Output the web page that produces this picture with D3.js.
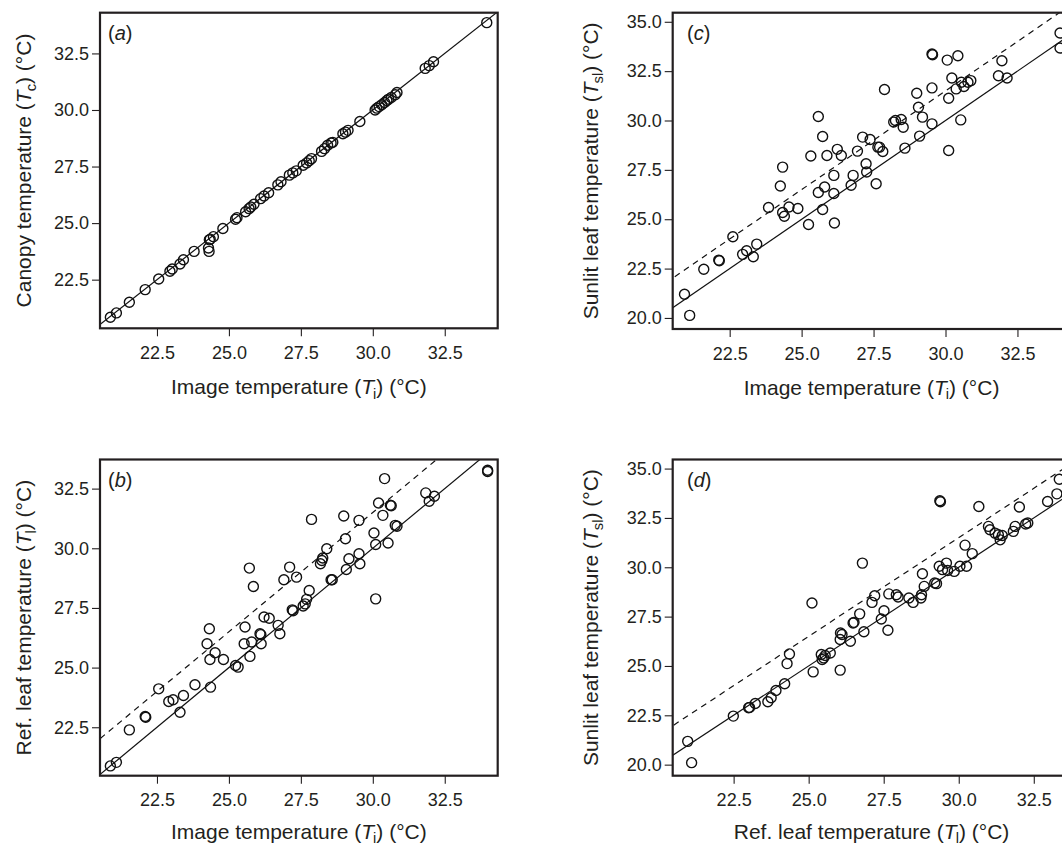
<!DOCTYPE html>
<html><head><meta charset="utf-8">
<script src="https://cdn.jsdelivr.net/npm/d3@7"></script>
<style>body{margin:0;background:#fff}svg{display:block}</style>
</head><body><svg id="chart" width="1062" height="848"></svg>
<script>
// ---------- data ----------
const xTickValues = [22.5, 25.0, 27.5, 30.0, 32.5];
const yTicksNarrow = [22.5, 25.0, 27.5, 30.0, 32.5];
const yTicksWide = [20.0, 22.5, 25.0, 27.5, 30.0, 32.5, 35.0];

// panel (a): image temperature Ti vs canopy temperature Tc
const aTi = [20.88,21.09,21.54,22.09,22.56,22.95,23.03,23.3,23.42,23.79,24.29,24.31,24.32,24.35,24.46,24.79,25.23,25.28,25.58,25.7,25.76,25.87,26.1,26.22,26.38,26.7,26.81,27.1,27.22,27.34,27.58,27.7,27.79,27.87,28.22,28.32,28.43,28.55,28.61,28.96,29.05,29.14,29.55,30.08,30.14,30.22,30.31,30.41,30.49,30.55,30.64,30.78,30.84,31.82,31.96,32.11,33.96];
const aTc = [20.84,21.03,21.5,22.06,22.53,22.87,22.97,23.19,23.38,23.75,23.9,23.75,24.26,24.29,24.4,24.76,25.17,25.24,25.5,25.64,25.71,25.83,26.08,26.2,26.34,26.69,26.83,27.12,27.22,27.31,27.56,27.66,27.76,27.85,28.17,28.29,28.44,28.54,28.57,28.95,29.02,29.1,29.49,30.0,30.08,30.15,30.23,30.33,30.42,30.48,30.55,30.67,30.77,31.84,31.96,32.13,33.86];

// panel (b): image temperature Ti vs ref. leaf temperature Tl
const bTi = [20.88,21.09,21.54,22.09,22.11,22.56,22.91,23.06,23.42,23.3,23.82,24.32,24.24,24.34,24.36,24.52,24.81,25.23,25.32,25.56,25.53,25.73,25.79,25.71,25.85,26.08,26.11,26.12,26.22,26.4,26.71,26.77,26.91,27.11,27.35,27.2,27.23,27.58,27.65,27.7,27.79,27.87,28.18,28.23,28.26,28.4,28.55,28.59,28.99,29.05,29.08,29.17,29.52,29.52,29.55,30.04,30.1,30.1,30.2,30.35,30.41,30.53,30.61,30.64,30.78,30.84,31.84,31.96,32.14,33.99,33.99];
const bTl = [20.88,21.03,22.39,22.95,22.92,24.11,23.58,23.65,23.83,23.13,24.28,26.63,26.0,25.34,24.18,25.62,25.34,25.09,25.02,26.7,26.0,25.47,26.07,29.17,28.4,26.42,26.38,26.0,27.12,27.07,26.77,26.42,28.68,29.21,28.79,27.42,27.38,27.58,27.67,27.86,28.23,31.21,29.35,29.49,29.59,29.98,28.68,28.68,31.35,30.4,29.11,29.56,31.17,29.77,29.35,30.64,30.16,27.88,31.9,31.38,32.92,30.22,31.8,31.78,30.96,30.92,32.32,31.97,32.18,33.27,33.22];

// panel (c): image temperature Ti vs sunlit leaf temperature Tsl
const cTi = [20.93,21.11,21.6,22.12,22.14,22.61,22.95,23.09,23.32,23.44,23.85,24.26,24.34,24.34,24.4,24.56,24.87,25.24,25.32,25.58,25.58,25.73,25.73,25.8,25.88,26.12,26.12,26.14,26.24,26.38,26.72,26.79,26.94,27.12,27.24,27.26,27.38,27.59,27.65,27.71,27.82,27.88,28.2,28.26,28.46,28.53,28.59,29.0,29.06,29.1,29.2,29.53,29.55,29.53,29.53,30.06,30.11,30.11,30.22,30.37,30.43,30.53,30.55,30.64,30.78,30.88,31.84,31.96,32.14,33.98,33.98];
const cTsl = [21.2,20.13,22.47,22.93,22.9,24.11,23.22,23.4,23.1,23.74,25.59,26.68,27.64,25.34,25.15,25.62,25.54,24.73,28.2,30.2,26.35,29.19,25.49,26.63,28.23,27.22,26.3,24.81,28.54,28.23,26.72,27.22,28.45,29.16,27.81,27.39,29.04,26.8,28.65,28.65,28.43,31.57,29.92,30.0,30.05,29.66,28.6,31.38,30.67,29.21,30.17,33.37,33.33,31.65,29.83,33.06,31.13,28.48,32.15,31.6,33.28,30.03,31.94,31.72,31.94,32.02,32.27,33.03,32.15,34.43,33.67];

// panel (d): ref. leaf temperature Tl vs sunlit leaf temperature Tsl
const dTl = [20.97,21.1,22.49,23.0,23.03,23.22,23.64,23.75,23.91,24.2,24.28,24.36,25.11,25.15,25.42,25.45,25.55,25.5,25.72,26.05,26.06,26.11,26.05,26.39,26.48,26.51,26.7,26.79,26.84,27.11,27.2,27.42,27.51,27.64,27.67,27.92,27.98,28.34,28.48,28.74,28.76,28.79,28.85,29.2,29.26,29.37,29.39,29.35,29.46,29.59,29.63,29.85,30.04,30.26,30.21,30.45,30.67,30.99,31.04,31.21,31.32,31.38,31.45,31.82,31.88,32.02,32.23,32.3,32.96,33.27,33.35];
const dTsl = [21.18,20.1,22.46,22.88,22.9,23.1,23.19,23.39,23.76,24.1,25.12,25.61,28.19,24.7,25.58,25.33,25.53,25.41,25.66,24.79,26.67,26.59,26.34,26.25,27.18,27.21,27.64,30.21,26.73,28.22,28.56,27.38,27.8,26.81,28.65,28.61,28.49,28.44,28.22,28.44,28.61,29.67,29.03,29.2,29.17,33.37,33.32,30.05,29.88,30.21,29.84,29.79,30.05,30.05,31.12,30.69,33.08,32.07,31.9,31.73,31.65,31.39,31.61,31.82,32.07,33.05,32.19,32.24,33.33,33.72,34.46];

// reference lines: 1:1 (solid) and 1:1 + offset (dashed)
const dashedOffset = 1.5;

// axis ranges (value domains)
const domTi = [20.52, 34.34];
const domTc = [20.35, 34.3];
const domTl = [20.47, 33.72];
const domTsl = [19.44, 35.46];

// axis titles
const titleTi = [["Image temperature ("], ["T","i"], [") (°C)"]];
const titleTc = [["Canopy temperature ("], ["T","c"], [") (°C)"]];
const titleTl = [["Ref. leaf temperature ("], ["T","l"], [") (°C)"]];
const titleTsl = [["Sunlit leaf temperature ("], ["T","sl"], [") (°C)"]];

// ---------- drawing ----------
const svg = d3.select("#chart");
svg.append("rect").attr("width",1062).attr("height",848).attr("fill","#fff");
const FONT = "'Liberation Sans', Arial, Helvetica, sans-serif";
const INK = "#231f20";

function richText(sel, parts, size) {
  let shifted = false;
  const sh = size * 0.2;
  parts.forEach(p => {
    if (p.length === 1) {
      const t = sel.append("tspan").text(p[0]);
      if (shifted) { t.attr("dy", -sh); shifted = false; }
    } else {
      sel.append("tspan").attr("font-style","italic").text(p[0]);
      sel.append("tspan").attr("font-size", size*0.7).attr("dy", sh).attr("dx", -1).text(p[1]);
      shifted = true;
    }
  });
}

const panels = [
  {id:"a", box:{x:100,y:12.7,w:397.7,h:315.6}, xs:aTi, ys:aTc, xd:domTi, yd:domTc, yt:yTicksNarrow,
   xTitle:titleTi, yTitle:titleTc, dashed:false, yTitleX:24, lab:[108,40], xTitleDy:66},
  {id:"b", box:{x:100,y:459.5,w:397.7,h:316.2}, xs:bTi, ys:bTl, xd:domTi, yd:domTl, yt:yTicksNarrow,
   xTitle:titleTi, yTitle:titleTl, dashed:true, yTitleX:24, lab:[108,487], xTitleDy:63},
  {id:"c", box:{x:672.7,y:12.7,w:397.7,h:316.3}, xs:cTi, ys:cTsl, xd:domTi, yd:domTsl, yt:yTicksWide,
   xTitle:titleTi, yTitle:titleTsl, dashed:true, yTitleX:591, lab:[687,40], xTitleDy:66},
  {id:"d", box:{x:672.7,y:459.5,w:397.7,h:316.2}, xs:dTl, ys:dTsl, xd:domTl, yd:domTsl, yt:yTicksWide,
   xTitle:titleTl, yTitle:titleTsl, dashed:true, yTitleX:591, lab:[687,487], xTitleDy:63}
];

panels.forEach(p => {
  const b = p.box;
  const x = d3.scaleLinear().domain(p.xd).range([b.x, b.x + b.w]);
  const y = d3.scaleLinear().domain(p.yd).range([b.y + b.h, b.y]);
  const g = svg.append("g");

  const clipId = "clip-" + p.id;
  svg.append("clipPath").attr("id", clipId).append("rect")
    .attr("x", b.x).attr("y", b.y).attr("width", b.w).attr("height", b.h);

  // axes
  const xa = g.append("g").attr("transform", `translate(0,${b.y + b.h})`)
    .call(d3.axisBottom(x).tickValues(xTickValues).tickFormat(d3.format(".1f")).tickSize(8).tickSizeOuter(0).tickPadding(10));
  const ya = g.append("g").attr("transform", `translate(${b.x},0)`)
    .call(d3.axisLeft(y).tickValues(p.yt).tickFormat(d3.format(".1f")).tickSize(8).tickSizeOuter(0).tickPadding(3));
  [xa, ya].forEach(a => {
    a.select(".domain").remove();
    a.selectAll("line").attr("stroke", INK).attr("stroke-width", 1.1);
    a.selectAll("text").attr("fill", INK).attr("font-family", FONT).attr("font-size", 18);
  });

  // reference lines
  const pl = g.append("g").attr("clip-path", `url(#${clipId})`);
  const lo = Math.min(p.xd[0], p.yd[0]) - 2, hi = Math.max(p.xd[1], p.yd[1]) + 2;
  const line = d3.line().x(d => x(d[0])).y(d => y(d[1]));
  pl.append("path").attr("d", line([[lo, lo],[hi, hi]]))
    .attr("fill","none").attr("stroke","#111").attr("stroke-width",1.2);
  if (p.dashed) {
    pl.append("path").attr("d", line([[lo, lo + dashedOffset],[hi, hi + dashedOffset]]))
      .attr("fill","none").attr("stroke","#111").attr("stroke-width",1.2).attr("stroke-dasharray","6,5");
  }

  // points
  const pts = d3.zip(p.xs, p.ys);
  pl.selectAll("circle").data(pts).join("circle")
    .attr("cx", d => x(d[0])).attr("cy", d => y(d[1])).attr("r", 5)
    .attr("fill","none").attr("stroke","#111").attr("stroke-width",1.4);

  // box
  g.append("rect").attr("x", b.x).attr("y", b.y).attr("width", b.w).attr("height", b.h)
    .attr("fill","none").attr("stroke", INK).attr("stroke-width", 2.2);

  // panel label
  const lt = g.append("text").attr("x", p.lab[0]).attr("y", p.lab[1])
    .attr("font-family", FONT).attr("font-size", 20).attr("fill", INK);
  lt.append("tspan").text("(");
  lt.append("tspan").attr("font-style","italic").text(p.id);
  lt.append("tspan").text(")");

  // x title
  const xt = g.append("text").attr("x", b.x + b.w/2).attr("y", b.y + b.h + p.xTitleDy)
    .attr("text-anchor","middle").attr("font-family", FONT).attr("font-size", 21).attr("fill", INK);
  richText(xt, p.xTitle, 21);

  // y title
  const yt = g.append("text")
    .attr("transform", `translate(${p.yTitleX},${b.y + b.h/2}) rotate(-90)`)
    .attr("text-anchor","middle").attr("dy","0.35em").attr("font-family", FONT).attr("font-size", 21).attr("fill", INK);
  richText(yt, p.yTitle, 21);
});
</script>
</body></html>
